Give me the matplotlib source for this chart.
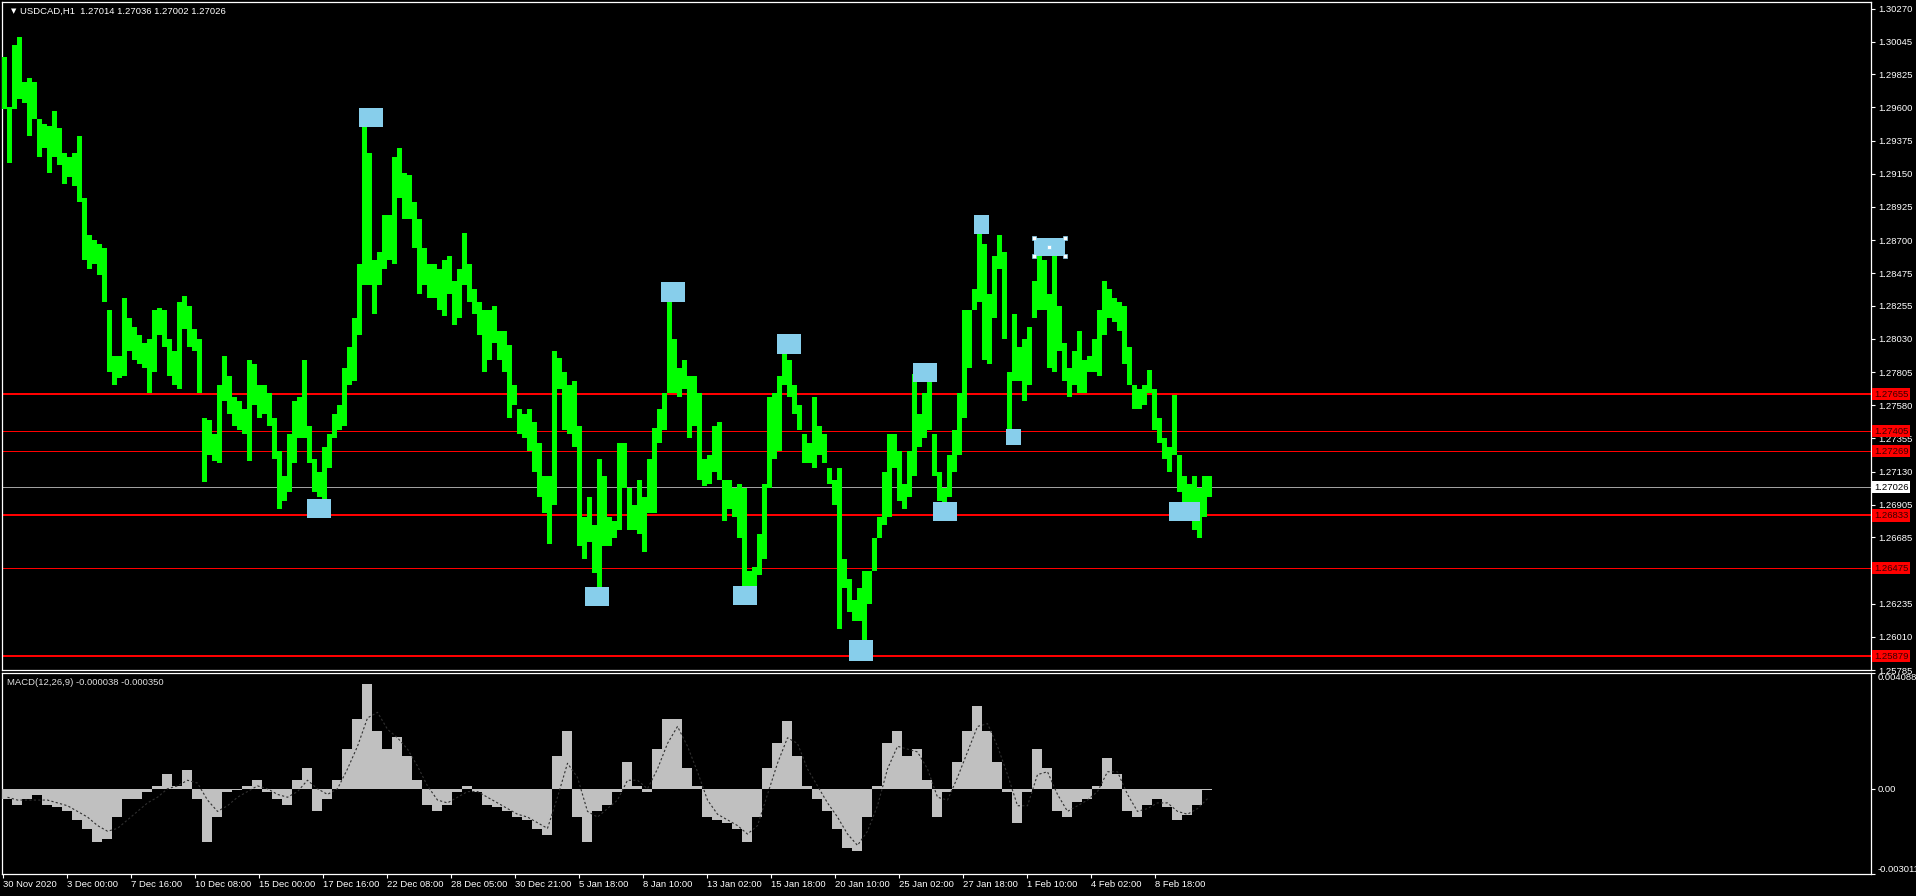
import matplotlib
matplotlib.use("Agg")
import matplotlib.pyplot as plt
import matplotlib.patches as patches
import numpy as np

plt.rcParams['font.family'] = ['Liberation Sans', 'DejaVu Sans']

# ---- data -------------------------------------------------------------
# H1 bars aggregated into blocks of 5 bars (high / low of each block)
BARS_PER_BLOCK = 5
block_high = [
    1.29940, 1.29603, 1.30024, 1.30081, 1.29771, 1.29800, 1.29771, 1.29519, 1.29490, 1.29476,
    1.29575, 1.29462, 1.29294, 1.29266, 1.29294, 1.29406, 1.28985, 1.28732, 1.28704, 1.28676,
    1.28647, 1.28226, 1.27917, 1.27917, 1.28310, 1.28170, 1.28114, 1.28057, 1.28001, 1.28029,
    1.28226, 1.28240, 1.28226, 1.28029, 1.27945, 1.28282, 1.28324, 1.28254, 1.28100, 1.28029,
    1.27495, 1.27481, 1.27383, 1.27720, 1.27917, 1.27776, 1.27636, 1.27608, 1.27552, 1.27889,
    1.27861, 1.27720, 1.27720, 1.27664, 1.27495, 1.27271, 1.27102, 1.27383, 1.27608, 1.27636,
    1.27889, 1.27439, 1.27214, 1.27130, 1.27299, 1.27383, 1.27523, 1.27580, 1.27833, 1.27973,
    1.28170, 1.28535, 1.29547, 1.29294, 1.28563, 1.28619, 1.28872, 1.28872, 1.29266, 1.29322,
    1.29153, 1.29139, 1.28957, 1.28844, 1.28647, 1.28535, 1.28535, 1.28507, 1.28563, 1.28591,
    1.28423, 1.28507, 1.28746, 1.28535, 1.28366, 1.28282, 1.28226, 1.28226, 1.28254, 1.28085,
    1.28085, 1.27987, 1.27720, 1.27552, 1.27523, 1.27552, 1.27467, 1.27327, 1.27102, 1.27102,
    1.27945, 1.27903, 1.27804, 1.27720, 1.27748, 1.27439, 1.26821, 1.26961, 1.26765, 1.27214,
    1.27102, 1.26821, 1.26793, 1.27327, 1.27327, 1.27018, 1.26905, 1.27074, 1.26961, 1.27214,
    1.27425, 1.27552, 1.27664, 1.28338, 1.28029, 1.27833, 1.27889, 1.27776, 1.27776, 1.27664,
    1.27214, 1.27242, 1.27439, 1.27467, 1.27074, 1.27074, 1.27018, 1.27046, 1.27018, 1.26456,
    1.26484, 1.26709, 1.27046, 1.27636, 1.27664, 1.27776, 1.27987, 1.27889, 1.27720, 1.27580,
    1.27383, 1.27327, 1.27636, 1.27439, 1.27383, 1.27158, 1.27074, 1.27158, 1.26540, 1.26399,
    1.26259, 1.26343, 1.26456, 1.26456, 1.26680, 1.26821, 1.27130, 1.27383, 1.27383, 1.27271,
    1.27046, 1.27271, 1.27790, 1.27523, 1.27664, 1.27804, 1.27383, 1.27130, 1.27018, 1.27242,
    1.27411, 1.27664, 1.28226, 1.28226, 1.28366, 1.28802, 1.28676, 1.28338, 1.28591, 1.28732,
    1.28619, 1.27804, 1.28198, 1.27973, 1.28029, 1.28114, 1.28423, 1.28647, 1.28563, 1.28338,
    1.28676, 1.28254, 1.28001, 1.27833, 1.27945, 1.28085, 1.27889, 1.27917, 1.28029, 1.28226,
    1.28423, 1.28366, 1.28310, 1.28282, 1.28254, 1.27973, 1.27720, 1.27692, 1.27720, 1.27819,
    1.27692, 1.27495, 1.27355, 1.27299, 1.27650, 1.27242, 1.27102, 1.27046, 1.27102, 1.27018,
    1.27102, 1.27102,
]
block_low = [
    1.29589, 1.29224, 1.29589, 1.29659, 1.29631, 1.29406, 1.29519, 1.29266, 1.29322, 1.29153,
    1.29266, 1.29209, 1.29083, 1.29125, 1.29069, 1.28957, 1.28563, 1.28507, 1.28535, 1.28465,
    1.28282, 1.27804, 1.27720, 1.27762, 1.27776, 1.27945, 1.27889, 1.27861, 1.27833, 1.27664,
    1.27804, 1.28057, 1.27973, 1.27776, 1.27720, 1.27692, 1.28100, 1.27973, 1.27945, 1.27664,
    1.27060, 1.27242, 1.27200, 1.27186, 1.27608, 1.27523, 1.27439, 1.27411, 1.27383, 1.27200,
    1.27580, 1.27495, 1.27523, 1.27439, 1.27214, 1.26877, 1.26933, 1.26990, 1.27186, 1.27355,
    1.27355, 1.27186, 1.26990, 1.26961, 1.26877, 1.27158, 1.27355, 1.27411, 1.27439, 1.27720,
    1.27748, 1.28057, 1.28395, 1.28395, 1.28198, 1.28395, 1.28507, 1.28563, 1.28535, 1.28985,
    1.28844, 1.28844, 1.28647, 1.28338, 1.28395, 1.28310, 1.28310, 1.28226, 1.28184, 1.28338,
    1.28128, 1.28170, 1.28395, 1.28282, 1.28198, 1.28057, 1.27804, 1.27889, 1.28001, 1.27889,
    1.27804, 1.27495, 1.27580, 1.27383, 1.27355, 1.27271, 1.27130, 1.26961, 1.26849, 1.26638,
    1.26905, 1.27692, 1.27411, 1.27383, 1.27299, 1.26624, 1.26540, 1.26652, 1.26442, 1.26287,
    1.26624, 1.26624, 1.26680, 1.26737, 1.27018, 1.26737, 1.26737, 1.26709, 1.26582, 1.26849,
    1.26849, 1.27327, 1.27411, 1.27664, 1.27664, 1.27636, 1.27692, 1.27355, 1.27439, 1.27074,
    1.27032, 1.27046, 1.27130, 1.27074, 1.26793, 1.26877, 1.26821, 1.26680, 1.26315, 1.26245,
    1.26315, 1.26428, 1.26540, 1.27018, 1.27214, 1.27271, 1.27720, 1.27636, 1.27523, 1.27411,
    1.27186, 1.27186, 1.27158, 1.27242, 1.27186, 1.27046, 1.26905, 1.26062, 1.26343, 1.26175,
    1.26118, 1.26118, 1.25894, 1.26231, 1.26456, 1.26680, 1.26765, 1.26821, 1.27158, 1.26933,
    1.26877, 1.26961, 1.27102, 1.27299, 1.27355, 1.27411, 1.27102, 1.26933, 1.26849, 1.26961,
    1.27130, 1.27242, 1.27495, 1.27833, 1.28226, 1.28282, 1.27889, 1.27861, 1.28170, 1.28507,
    1.28029, 1.27383, 1.27748, 1.27748, 1.27608, 1.27720, 1.28170, 1.28226, 1.28226, 1.27833,
    1.27804, 1.27945, 1.27748, 1.27636, 1.27720, 1.27664, 1.27664, 1.27804, 1.27804, 1.27776,
    1.28057, 1.28170, 1.28142, 1.28085, 1.27861, 1.27720, 1.27552, 1.27552, 1.27580, 1.27664,
    1.27411, 1.27327, 1.27214, 1.27130, 1.27242, 1.26990, 1.26905, 1.26905, 1.26737, 1.26680,
    1.26821, 1.26961,
]

# MACD main (histogram) and signal (dotted), one value per 10 bars
MACD_STEP = 10
macd_main = [
    -0.00035, -0.00056, -0.00035, -0.00022, -0.00056, -0.00065, -0.00078, -0.00109, -0.00143, -0.00187,
    -0.00178, -0.00100, -0.00035, -0.00035, -0.00013, 0.00009, 0.00052, 0.00009, 0.00065, -0.00035,
    -0.00187, -0.00100, -0.00013, -0.00004, 0.00009, 0.00030, -0.00013, -0.00035, -0.00056, 0.00030,
    0.00074, -0.00078, -0.00035, 0.00030, 0.00139, 0.00247, 0.00369, 0.00204, 0.00139, 0.00182,
    0.00117, 0.00030, -0.00056, -0.00078, -0.00056, -0.00013, 0.00009, -0.00013, -0.00056, -0.00065,
    -0.00078, -0.00100, -0.00109, -0.00143, -0.00165, 0.00117, 0.00204, -0.00100, -0.00187, -0.00078,
    -0.00056, -0.00013, 0.00095, 0.00009, -0.00013, 0.00139, 0.00247, 0.00247, 0.00074, 0.00009,
    -0.00100, -0.00109, -0.00122, -0.00143, -0.00187, -0.00100, 0.00074, 0.00161, 0.00239, 0.00117,
    0.00009, -0.00035, -0.00078, -0.00143, -0.00208, -0.00221, -0.00100, 0.00009, 0.00161, 0.00204,
    0.00117, 0.00139, 0.00030, -0.00100, -0.00013, 0.00095, 0.00204, 0.00291, 0.00204, 0.00095,
    -0.00013, -0.00122, -0.00013, 0.00139, 0.00074, -0.00078, -0.00100, -0.00048, -0.00035, 0.00009,
    0.00109, 0.00052, -0.00078, -0.00100, -0.00056, -0.00035, -0.00065, -0.00109, -0.00091, -0.00056,
    -0.00004,
]
macd_signal = [
    -0.00030, -0.00040, -0.00040, -0.00040, -0.00040, -0.00050, -0.00060, -0.00080, -0.00100, -0.00130,
    -0.00150, -0.00140, -0.00110, -0.00080, -0.00050, -0.00030, 0.00000, 0.00010, 0.00030, 0.00020,
    -0.00040, -0.00080, -0.00060, -0.00030, -0.00010, 0.00010, 0.00000, -0.00020, -0.00030, -0.00010,
    0.00030, 0.00000, -0.00020, 0.00000, 0.00070, 0.00150, 0.00250, 0.00270, 0.00210, 0.00180,
    0.00140, 0.00080, 0.00010, -0.00040, -0.00050, -0.00030, -0.00010, -0.00010, -0.00030, -0.00050,
    -0.00070, -0.00090, -0.00100, -0.00120, -0.00140, -0.00030, 0.00090, 0.00040, -0.00080, -0.00100,
    -0.00070, -0.00040, 0.00030, 0.00030, 0.00000, 0.00070, 0.00160, 0.00220, 0.00150, 0.00060,
    -0.00040, -0.00090, -0.00110, -0.00130, -0.00160, -0.00130, -0.00020, 0.00090, 0.00180, 0.00160,
    0.00070, 0.00010, -0.00050, -0.00100, -0.00160, -0.00200, -0.00150, -0.00060, 0.00070, 0.00150,
    0.00140, 0.00130, 0.00070, -0.00030, -0.00040, 0.00040, 0.00130, 0.00220, 0.00230, 0.00150,
    0.00050, -0.00060, -0.00060, 0.00050, 0.00060, -0.00020, -0.00080, -0.00060, -0.00040, -0.00010,
    0.00060, 0.00060, -0.00020, -0.00080, -0.00070, -0.00050, -0.00050, -0.00080, -0.00090, -0.00070,
    -0.00035,
]

# price scale ticks (1.26460 sits under the 1.26475 line label) and horizontal lines
price_ticks = [1.30270, 1.30045, 1.29825, 1.29600, 1.29375, 1.29150, 1.28925, 1.28700,
               1.28475, 1.28255, 1.28030, 1.27805, 1.27580, 1.27355, 1.27130, 1.26905,
               1.26685, 1.26235, 1.26010, 1.25785]
red_levels = [1.27655, 1.27405, 1.27269, 1.26833, 1.26475, 1.25879]
red_widths = [2, 1, 1, 2, 1, 2]
bid_price = 1.27026

# rectangle objects: first bar, last bar, top price, bottom price
rect_objects = [
    (356, 380, 1.29597, 1.29468),
    (304, 328, 1.26947, 1.26813),
    (658, 682, 1.28417, 1.28282),
    (582, 606, 1.26349, 1.26220),
    (774, 798, 1.28066, 1.27928),
    (730, 754, 1.26357, 1.26228),
    (971, 986, 1.28872, 1.28743),
    (1031, 1062, 1.28712, 1.28594),
    (910, 934, 1.27869, 1.27740),
    (930, 954, 1.26925, 1.26793),
    (1003, 1018, 1.27420, 1.27313),
    (846, 870, 1.25989, 1.25843),
    (1166, 1197, 1.26925, 1.26798),
]
selected_rect = 7

time_labels = ["30 Nov 2020", "3 Dec 00:00", "7 Dec 16:00", "10 Dec 08:00", "15 Dec 00:00",
               "17 Dec 16:00", "22 Dec 08:00", "28 Dec 05:00", "30 Dec 21:00", "5 Jan 18:00",
               "8 Jan 10:00", "13 Jan 02:00", "15 Jan 18:00", "20 Jan 10:00", "25 Jan 02:00",
               "27 Jan 18:00", "1 Feb 10:00", "4 Feb 02:00", "8 Feb 18:00"]
BARS_PER_LABEL = 64

macd_top, macd_bottom = 0.004088, -0.003011

# ---- figure -----------------------------------------------------------
W, H = 1916, 896
fig = plt.figure(figsize=(W / 100, H / 100), dpi=100, facecolor='black')


def px_axes(x0, y0, x1, y1):
    return fig.add_axes([x0 / W, 1 - y1 / H, (x1 - x0) / W, (y1 - y0) / H])


ax = px_axes(2, 2, 1871, 670)
axm = px_axes(2, 673, 1871, 874)
FS = 6.8

for a in (ax, axm):
    a.set_facecolor('black')
    for s in a.spines.values():
        s.set_color('white')
        s.set_linewidth(0.9)
    a.set_xlim(-1, 1868)
    a.yaxis.tick_right()
    a.tick_params(axis='y', colors='white', labelsize=FS, length=3, width=0.8,
                  direction='out', pad=2)

# price blocks
hi = np.array(block_high)
lo = np.array(block_low)
xb = np.arange(len(hi)) * BARS_PER_BLOCK + (BARS_PER_BLOCK - 1) / 2
ax.bar(xb, hi - lo, bottom=lo, width=BARS_PER_BLOCK, color='#00FF00', linewidth=0, zorder=3)

ax.set_ylim(1.257867, 1.303151)
ax.set_yticks(price_ticks)
ax.set_yticklabels([f"{v:.5f}" for v in price_ticks])
ax.set_xticks([])

# horizontal lines
for lvl, lw in zip(red_levels, red_widths):
    ax.axhline(lvl, color='#FF0000', lw=lw * 0.72, zorder=2)
ax.axhline(bid_price, color='#A0A0A0', lw=0.72, zorder=2)

# rectangles
for i, (b0, b1, top, bot) in enumerate(rect_objects):
    ax.add_patch(patches.Rectangle((b0, bot), b1 - b0, top - bot, facecolor='#87CEEB',
                                   edgecolor='none', zorder=4))
b0, b1, top, bot = rect_objects[selected_rect]
hx = [b0, b1, b0, b1, (b0 + b1) / 2]
hy = [top, top, bot, bot, (top + bot) / 2]
ax.plot(hx, hy, ls='none', marker='s', ms=3.2, mfc='white', mec='#87CEEB', mew=0.5, zorder=5)

# price labels on the scale
ylab = ax.get_yaxis_transform()
for lvl in red_levels:
    ax.text(1.0 + 3 / 1869, lvl, f"{lvl:.5f}", transform=ylab, ha='left', va='center',
            fontsize=FS, color='#3a0000', clip_on=False, zorder=10,
            bbox=dict(boxstyle='square,pad=0.18', fc='#FF0000', ec='none'))
ax.text(1.0 + 3 / 1869, bid_price, f"{bid_price:.5f}", transform=ylab, ha='left', va='center',
        fontsize=FS, color='black', clip_on=False, zorder=10,
        bbox=dict(boxstyle='square,pad=0.18', fc='white', ec='none'))

# title
ax.text(9 / 1869, 1 - 9 / 668, '\u25BC', transform=ax.transAxes, fontsize=5, color='white',
        ha='left', va='center', family=['DejaVu Sans'])
ax.text(18 / 1869, 1 - 9 / 668, 'USDCAD,H1  1.27014 1.27036 1.27002 1.27026',
        transform=ax.transAxes, fontsize=FS, color='white', ha='left', va='center')

# MACD panel
mv = np.array(macd_main)
xm = np.arange(len(mv)) * MACD_STEP + (MACD_STEP - 1) / 2
axm.bar(xm, mv, width=MACD_STEP, color='#C0C0C0', linewidth=0, zorder=3)
axm.plot(xm, macd_signal, color='#303030', lw=0.8, ls=(0, (2, 2)), zorder=4)
axm.set_ylim(macd_bottom, macd_top)
axm.set_yticks([macd_top, 0.0, macd_bottom])
axm.set_yticklabels(['0.004088', '0.00', '-0.003011'])
tl = axm.get_yticklabels()
tl[0].set_va('top')
tl[2].set_va('bottom')
axm.text(5 / 1869, 1 - 9 / 201, 'MACD(12,26,9) -0.000038 -0.000350', transform=axm.transAxes,
         fontsize=FS, color='#E0E0E0', ha='left', va='center')

xt = np.arange(len(time_labels)) * BARS_PER_LABEL
axm.set_xticks(xt)
axm.set_xticklabels(time_labels, ha='left')
axm.tick_params(axis='x', colors='white', labelsize=FS, length=3, width=0.8,
                direction='out', pad=1.5)

fig.savefig('out.png', dpi=100, facecolor='black')
